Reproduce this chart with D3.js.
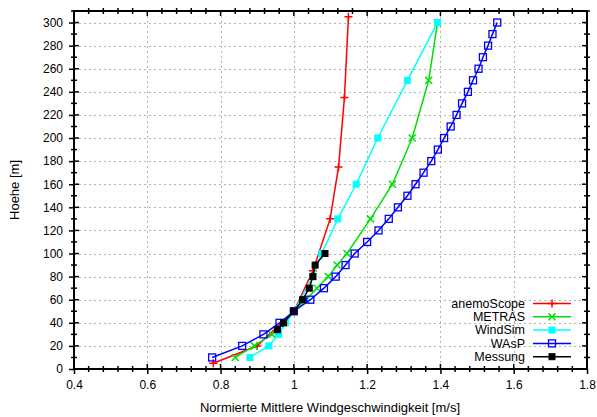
<!DOCTYPE html>
<html>
<head>
<meta charset="utf-8">
<script src="https://cdn.jsdelivr.net/npm/d3@7"></script>
<style>
  html, body { margin: 0; padding: 0; background: #fff; }
  svg { display: block; font-family: "Liberation Sans", Arial, Helvetica, sans-serif; }
</style>
</head>
<body>
<svg id="chart" width="597" height="417"></svg>
<script>
// Normalised mean wind speed profiles (height in m, speed relative to 50 m)
const anemoScopeH = [5, 20, 50, 85, 130, 175, 235, 305];
const anemoScopeV = [0.78, 0.90, 1.0, 1.052, 1.099, 1.122, 1.138, 1.149];

const metrasH = [10, 20, 30, 40, 50, 60, 70, 80, 90, 100, 130, 160, 200, 250, 300];
const metrasV = [0.84, 0.892, 0.94, 0.972, 1.0, 1.033, 1.063, 1.094, 1.118, 1.145, 1.209, 1.269, 1.323, 1.368, 1.392];

const windSimH = [10, 20, 30, 40, 50, 80, 100, 130, 160, 200, 250, 300];
const windSimV = [0.88, 0.932, 0.958, 0.978, 1.0, 1.052, 1.076, 1.12, 1.17, 1.229, 1.31, 1.392];

const waspH = [10, 20, 30, 40, 50, 60, 70, 80, 90, 100, 110, 120, 130, 140, 150, 160, 170, 180, 190, 200,
               210, 220, 230, 240, 250, 260, 270, 280, 290, 300];
const waspV = [0.777, 0.859, 0.917, 0.961, 1.0, 1.045, 1.082, 1.114, 1.141, 1.166, 1.2, 1.231, 1.259, 1.284, 1.31,
               1.332, 1.354, 1.375, 1.393, 1.41, 1.428, 1.444, 1.459, 1.475, 1.489, 1.504, 1.516, 1.53, 1.542, 1.555];

const messungH = [34, 40, 50, 60, 70, 80, 90, 100];
const messungV = [0.955, 0.972, 1.0, 1.024, 1.042, 1.052, 1.058, 1.085];

const xTicks = [0.4, 0.6, 0.8, 1, 1.2, 1.4, 1.6, 1.8];
const yTicks = [0, 20, 40, 60, 80, 100, 120, 140, 160, 180, 200, 220, 240, 260, 280, 300];

const series = [
  { name: "anemoScope", h: anemoScopeH, v: anemoScopeV, color: "#ff0000", marker: "plus" },
  { name: "METRAS",     h: metrasH,     v: metrasV,     color: "#00e000", marker: "cross" },
  { name: "WindSim",    h: windSimH,    v: windSimV,    color: "#00ffff", marker: "fsquare" },
  { name: "WAsP",       h: waspH,       v: waspV,       color: "#0000ff", marker: "osquare" },
  { name: "Messung",    h: messungH,    v: messungV,    color: "#000000", marker: "bsquare" }
];

const svg = d3.select("#chart");
const plotL = 74, plotR = 587, plotT = 11, plotB = 369;

const x = d3.scaleLinear().domain([0.4, 1.8]).range([plotL, plotR]);
const y = d3.scaleLinear().domain([0, 310]).range([plotB, plotT]);

// grid
const grid = svg.append("g").attr("stroke", "#b4b4b4").attr("stroke-width", 1).attr("stroke-dasharray", "2,3");
xTicks.slice(1, -1).forEach(t => {
  grid.append("line").attr("x1", Math.round(x(t)) + 0.5).attr("x2", Math.round(x(t)) + 0.5)
      .attr("y1", plotT).attr("y2", plotB);
});
yTicks.slice(1).forEach(t => {
  grid.append("line").attr("y1", Math.round(y(t)) + 0.5).attr("y2", Math.round(y(t)) + 0.5)
      .attr("x1", plotL).attr("x2", plotR);
});

// axes (major ticks cross the frame, minor ticks smaller)
const xMinor = d3.range(0.4, 1.8001, 0.04).map(d => +d.toFixed(2));
const yMinor = d3.range(0, 310.001, 10);

const axisB = d3.axisBottom(x).tickValues(xTicks).tickFormat(d3.format("")).tickSize(5).tickPadding(6);
const gB = svg.append("g").attr("transform", `translate(0,${plotB})`).call(axisB);
const axisL = d3.axisLeft(y).tickValues(yTicks).tickSize(5).tickPadding(6);
const gL = svg.append("g").attr("transform", `translate(${plotL},0)`).call(axisL);
[gB, gL].forEach(g => {
  g.select(".domain").remove();
  g.selectAll("text").attr("font-size", 12).attr("fill", "#000")
    .attr("font-family", "Liberation Sans, Arial, sans-serif");
  g.selectAll("line").attr("stroke", "#000").attr("stroke-width", 1.5);
});

const ticks = svg.append("g").attr("stroke", "#000").attr("stroke-width", 1.5);
xMinor.forEach(t => {
  const isMajor = xTicks.some(m => Math.abs(m - t) < 1e-6);
  const inLen = isMajor ? 5 : 3, outLen = isMajor ? 0 : 3;
  const px = x(t);
  ticks.append("line").attr("x1", px).attr("x2", px).attr("y1", plotB + outLen).attr("y2", plotB - inLen);
  ticks.append("line").attr("x1", px).attr("x2", px).attr("y1", plotT - outLen).attr("y2", plotT + inLen);
});
yMinor.forEach(t => {
  const isMajor = t % 20 === 0;
  const inLen = isMajor ? 5 : 3, outLen = isMajor ? 0 : 3;
  const py = y(t);
  ticks.append("line").attr("y1", py).attr("y2", py).attr("x1", plotL - outLen).attr("x2", plotL + inLen);
  ticks.append("line").attr("y1", py).attr("y2", py).attr("x1", plotR + outLen).attr("x2", plotR - inLen);
});

// frame
svg.append("rect").attr("x", plotL).attr("y", plotT).attr("width", plotR - plotL).attr("height", plotB - plotT)
   .attr("fill", "none").attr("stroke", "#000").attr("stroke-width", 2);

// axis titles
svg.append("text").attr("x", 330).attr("y", 412).attr("text-anchor", "middle")
   .attr("font-size", 13).text("Normierte Mittlere Windgeschwindigkeit [m/s]");
svg.append("text").attr("transform", `translate(19,${(plotT + plotB) / 2}) rotate(-90)`)
   .attr("text-anchor", "middle").attr("font-size", 13).text("Hoehe [m]");

// marker drawing
function drawMarker(g, m, cx, cy, color) {
  if (m === "plus") {
    g.append("path").attr("d", `M${cx - 4},${cy}H${cx + 4}M${cx},${cy - 4}V${cy + 4}`)
      .attr("stroke", color).attr("stroke-width", 1.5).attr("fill", "none");
  } else if (m === "cross") {
    g.append("path").attr("d", `M${cx - 3.5},${cy - 3.5}L${cx + 3.5},${cy + 3.5}M${cx - 3.5},${cy + 3.5}L${cx + 3.5},${cy - 3.5}`)
      .attr("stroke", color).attr("stroke-width", 1.5).attr("fill", "none");
  } else if (m === "fsquare" || m === "bsquare") {
    g.append("rect").attr("x", cx - 3).attr("y", cy - 3).attr("width", 6).attr("height", 6)
      .attr("fill", color).attr("stroke", color).attr("stroke-width", 1);
  } else if (m === "osquare") {
    g.append("rect").attr("x", cx - 3.5).attr("y", cy - 3.5).attr("width", 7).attr("height", 7)
      .attr("fill", "none").attr("stroke", color).attr("stroke-width", 1.3);
  }
}

const plot = svg.append("g");
const line = d3.line().x(d => x(d[0])).y(d => y(d[1]));
series.forEach(s => {
  const pts = s.v.map((v, i) => [v, s.h[i]]);
  const g = plot.append("g");
  g.append("path").datum(pts).attr("d", line).attr("fill", "none")
    .attr("stroke", s.color).attr("stroke-width", 1.5);
  pts.forEach(p => drawMarker(g, s.marker, x(p[0]), y(p[1]), s.color));
});

// legend
const legend = svg.append("g");
series.forEach((s, i) => {
  const ly = 303.5 + i * 13.3;
  legend.append("text").attr("x", 525).attr("y", ly + 4.3).attr("text-anchor", "end")
    .attr("font-size", 12.5).attr("textLength", null).text(s.name);
  legend.append("line").attr("x1", 533).attr("x2", 571).attr("y1", ly).attr("y2", ly)
    .attr("stroke", s.color).attr("stroke-width", 1.5);
  drawMarker(legend, s.marker, 552, ly, s.color);
});
</script>
</body>
</html>
